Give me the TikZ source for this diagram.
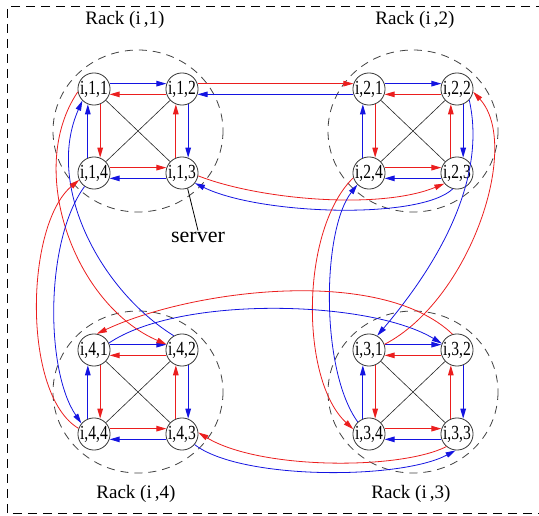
\documentclass[tikz,border=0pt]{standalone}
\usepackage{fontspec}
\setmainfont{Liberation Serif}
\usetikzlibrary{arrows.meta}
\definecolor{myred}{RGB}{235,30,30}
\definecolor{myblue}{RGB}{20,20,225}
\newcommand{\srvlab}[2]{\scalebox{0.78}[1]{i,#1,#2}}
\begin{document}
\begin{tikzpicture}[x=1pt,y=-1pt,
  srv/.style={circle,draw=black!80,line width=0.8pt,minimum size=31pt,inner sep=0pt,fill=white,font=\fontsize{20}{20}\selectfont},
  tip/.style={-{Triangle[length=10pt,width=5.5pt]}},
  rr/.style={draw=myred,line width=1.1pt,tip},
  bb/.style={draw=myblue,line width=1.1pt,tip},
  rc/.style={draw=myred,line width=0.8pt,tip},
  bc/.style={draw=myblue,line width=0.8pt,tip},
  diag/.style={draw=black!85,line width=0.6pt},
  rackc/.style={draw=black!75,line width=0.8pt,dash pattern=on 8pt off 6pt},
  frame/.style={draw=black,line width=1pt,dash pattern=on 9pt off 6pt},
  lbl/.style={font=\fontsize{19}{19}\selectfont,inner sep=0pt}]
\useasboundingbox (0,0) rectangle (539,516);
\draw[frame] (545,7) -- (7,7) -- (7,513) -- (545,513);

% rack outlines
\draw[rackc] (138,131) ellipse [x radius=85, y radius=81];
\draw[rackc] (413,131) ellipse [x radius=85, y radius=81];
\draw[rackc] (413,392) ellipse [x radius=85, y radius=81];
\draw[rackc] (138,392) ellipse [x radius=85, y radius=81];

% labels
\node[lbl] (l1) at (125,20) {Rack (i\,,1)};
\node[lbl] (l2) at (415,20) {Rack (i\,,2)};
\node[lbl] (l4) at (136,494) {Rack (i\,,4)};
\node[lbl] (l3) at (411,494) {Rack (i\,,3)};

% servers
\node[srv] (i11) at (94,89) {\srvlab{1}{1}};
\node[srv] (i12) at (182,89) {\srvlab{1}{2}};
\node[srv] (i13) at (182,173) {\srvlab{1}{3}};
\node[srv] (i14) at (94,173) {\srvlab{1}{4}};
\node[srv] (i21) at (369,89) {\srvlab{2}{1}};
\node[srv] (i22) at (457,89) {\srvlab{2}{2}};
\node[srv] (i23) at (457,173) {\srvlab{2}{3}};
\node[srv] (i24) at (369,173) {\srvlab{2}{4}};
\node[srv] (i31) at (369,350) {\srvlab{3}{1}};
\node[srv] (i32) at (457,350) {\srvlab{3}{2}};
\node[srv] (i33) at (457,434) {\srvlab{3}{3}};
\node[srv] (i34) at (369,434) {\srvlab{3}{4}};
\node[srv] (i41) at (94,350) {\srvlab{4}{1}};
\node[srv] (i42) at (182,350) {\srvlab{4}{2}};
\node[srv] (i43) at (182,434) {\srvlab{4}{3}};
\node[srv] (i44) at (94,434) {\srvlab{4}{4}};

% intra-rack links
\foreach \r in {1,2,3,4}{
  \draw[diag] (i\r1) -- (i\r3);
  \draw[diag] (i\r2) -- (i\r4);
  \draw[bb] (i\r1.19) -- (i\r2.161);
  \draw[rr] (i\r2.199) -- (i\r1.341);
  \draw[rr] (i\r1.-68) -- (i\r4.68);
  \draw[bb] (i\r4.112) -- (i\r1.248);
  \draw[bb] (i\r2.-68) -- (i\r3.68);
  \draw[rr] (i\r3.112) -- (i\r2.248);
  \draw[rr] (i\r4.19) -- (i\r3.161);
  \draw[bb] (i\r3.199) -- (i\r4.341);
}

% inter-rack links
\draw[rc] (i12.19) -- (i21.161);
\draw[bc] (i21.199) -- (i12.341);
\draw[rc] (i13.-10) .. controls (260,200) and (380,210) .. (i23.220);
\draw[bc] (i23.255) .. controls (420,220) and (260,215) .. (i13.-38);
\draw[bc] (i22.-42) .. controls (485,170) and (450,250) .. (i31.60);
\draw[rc] (i31.20) .. controls (470,300) and (522,145) .. (i22.-10);
\draw[rc] (i24.197) .. controls (300,230) and (300,380) .. (i34.163);
\draw[bc] (i34.133) .. controls (320,370) and (322,230) .. (i24.225);
\draw[rc] (i32.106) .. controls (380,265) and (190,290) .. (i41.80);
\draw[bc] (i41.25) .. controls (180,295) and (370,300) .. (i32.157);
\draw[rc] (i33.230) .. controls (400,470) and (260,470) .. (i43.5);
\draw[bc] (i43.-40) .. controls (240,480) and (400,480) .. (i33.-95);
\draw[rc] (i11.190) .. controls (25,170) and (75,305) .. (i42.160);
\draw[bc] (i42.120) .. controls (100,290) and (45,185) .. (i11.225);
\draw[rc] (i44.160) .. controls (22,395) and (25,225) .. (i14.205);
\draw[bc] (i14.235) .. controls (45,240) and (45,370) .. (i44.140);

% server label
\node[font=\fontsize{22}{22}\selectfont,inner sep=1pt] (srvl) at (198,237) {server};
\draw[draw=black,line width=0.8pt] (i13.-70) -- (srvl.north);
\end{tikzpicture}
\end{document}
